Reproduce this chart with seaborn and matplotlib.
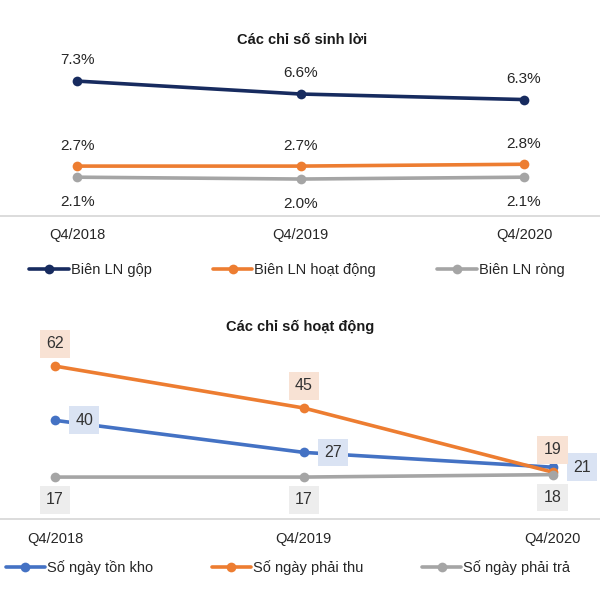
import matplotlib
matplotlib.use("Agg")
import pandas as pd
import matplotlib.pyplot as plt
import seaborn as sns

# --- dữ liệu ---------------------------------------------------------
quarters = ["Q4/2018", "Q4/2019", "Q4/2020"]

profit_names = ["Biên LN gộp", "Biên LN hoạt động", "Biên LN ròng"]
bien_gop = [7.3, 6.6, 6.3]
bien_hoat_dong = [2.7, 2.7, 2.8]
bien_rong = [2.1, 2.0, 2.1]

activity_names = ["Số ngày tồn kho", "Số ngày phải thu", "Số ngày phải trả"]
ngay_ton_kho = [40, 27, 21]
ngay_phai_thu = [62, 45, 19]
ngay_phai_tra = [17, 17, 18]

NAVY, ORANGE, GRAY, BLUE = "#172B5F", "#ED7D31", "#A5A5A5", "#4472C4"

sns.set_style("white")
plt.rcParams["font.family"] = ["Liberation Sans", "DejaVu Sans"]

fig = plt.figure(figsize=(6, 6), dpi=100)
ax1 = fig.add_axes([0, 0.64, 1, 0.268])
ax2 = fig.add_axes([0, 0.135, 1, 0.298])


def draw(ax, series, colors, names):
    for vals, c, name in zip(series, colors, names):
        sns.lineplot(x=quarters, y=vals, color=c, marker="o", markersize=7,
                     markeredgewidth=0, linewidth=2.6, label=name, sort=False,
                     ax=ax, clip_on=False)
    if ax.get_legend():
        ax.get_legend().remove()
    sns.despine(ax=ax, left=True, top=True, right=True)
    ax.spines["bottom"].set_color("#D9D9D9")
    ax.spines["bottom"].set_linewidth(1.3)
    ax.set_yticks([])
    ax.set_xlabel("")
    ax.set_ylabel("")
    ax.tick_params(axis="x", length=0, pad=9, labelsize=10.5, labelcolor="#262626")


# ① Các chỉ số sinh lời -------------------------------------------------
profit = [bien_gop, bien_hoat_dong, bien_rong]
draw(ax1, profit, [NAVY, ORANGE, GRAY], profit_names)
ax1.set_xlim(-0.345, 2.34)
ax1.set_ylim(0, 8.7)
offsets = [15, 14.5, -18]
for vals, dy in zip(profit, offsets):
    for i, v in enumerate(vals):
        ax1.annotate(f"{v:.1f}%", (i, v), xytext=(0, dy), textcoords="offset points",
                     ha="center", va="center", fontsize=11, color="#262626")
fig.text(0.503, 1 - 40 / 600, "Các chỉ số sinh lời", ha="center", va="center",
         fontsize=10.5, fontweight="bold", color="#1a1a1a")
h, l = ax1.get_legend_handles_labels()
fig.legend(h, l, loc="center", bbox_to_anchor=(0.495, 1 - 270 / 600), ncol=3,
           frameon=False, fontsize=10.5, handlelength=2.7, handletextpad=0.15,
           columnspacing=4.2, labelcolor="#262626")

# ② Các chỉ số hoạt động ------------------------------------------------
activity = [ngay_ton_kho, ngay_phai_thu, ngay_phai_tra]
draw(ax2, activity, [BLUE, ORANGE, GRAY], activity_names)
ax2.set_xlim(-0.221, 2.19)
ax2.set_ylim(0, 72.5)
ax2.set_xticks([0.5, 1.5], minor=True)
ax2.tick_params(axis="x", which="minor", length=4, color="#D9D9D9", width=1.2)
box_styles = [
    (ngay_ton_kho, (21, 0), "#DAE3F3"),
    (ngay_phai_thu, (0, 16), "#F8E2D4"),
    (ngay_phai_tra, (0, -16.5), "#EDEDED"),
]
for vals, off, bg in box_styles:
    for i, v in enumerate(vals):
        ax2.annotate(f"{v}", (i, v), xytext=off, textcoords="offset points",
                     ha="center", va="center", fontsize=11.5, color="#333333",
                     bbox=dict(boxstyle="square,pad=0.4", fc=bg, ec="none"))
fig.text(0.5, 1 - 327 / 600, "Các chỉ số hoạt động", ha="center", va="center",
         fontsize=10.5, fontweight="bold", color="#1a1a1a")
h, l = ax2.get_legend_handles_labels()
fig.legend(h, l, loc="center", bbox_to_anchor=(0.48, 1 - 568 / 600), ncol=3,
           frameon=False, fontsize=10.5, handlelength=2.7, handletextpad=0.15,
           columnspacing=4.0, labelcolor="#262626")

fig.savefig("out.png", dpi=100)
